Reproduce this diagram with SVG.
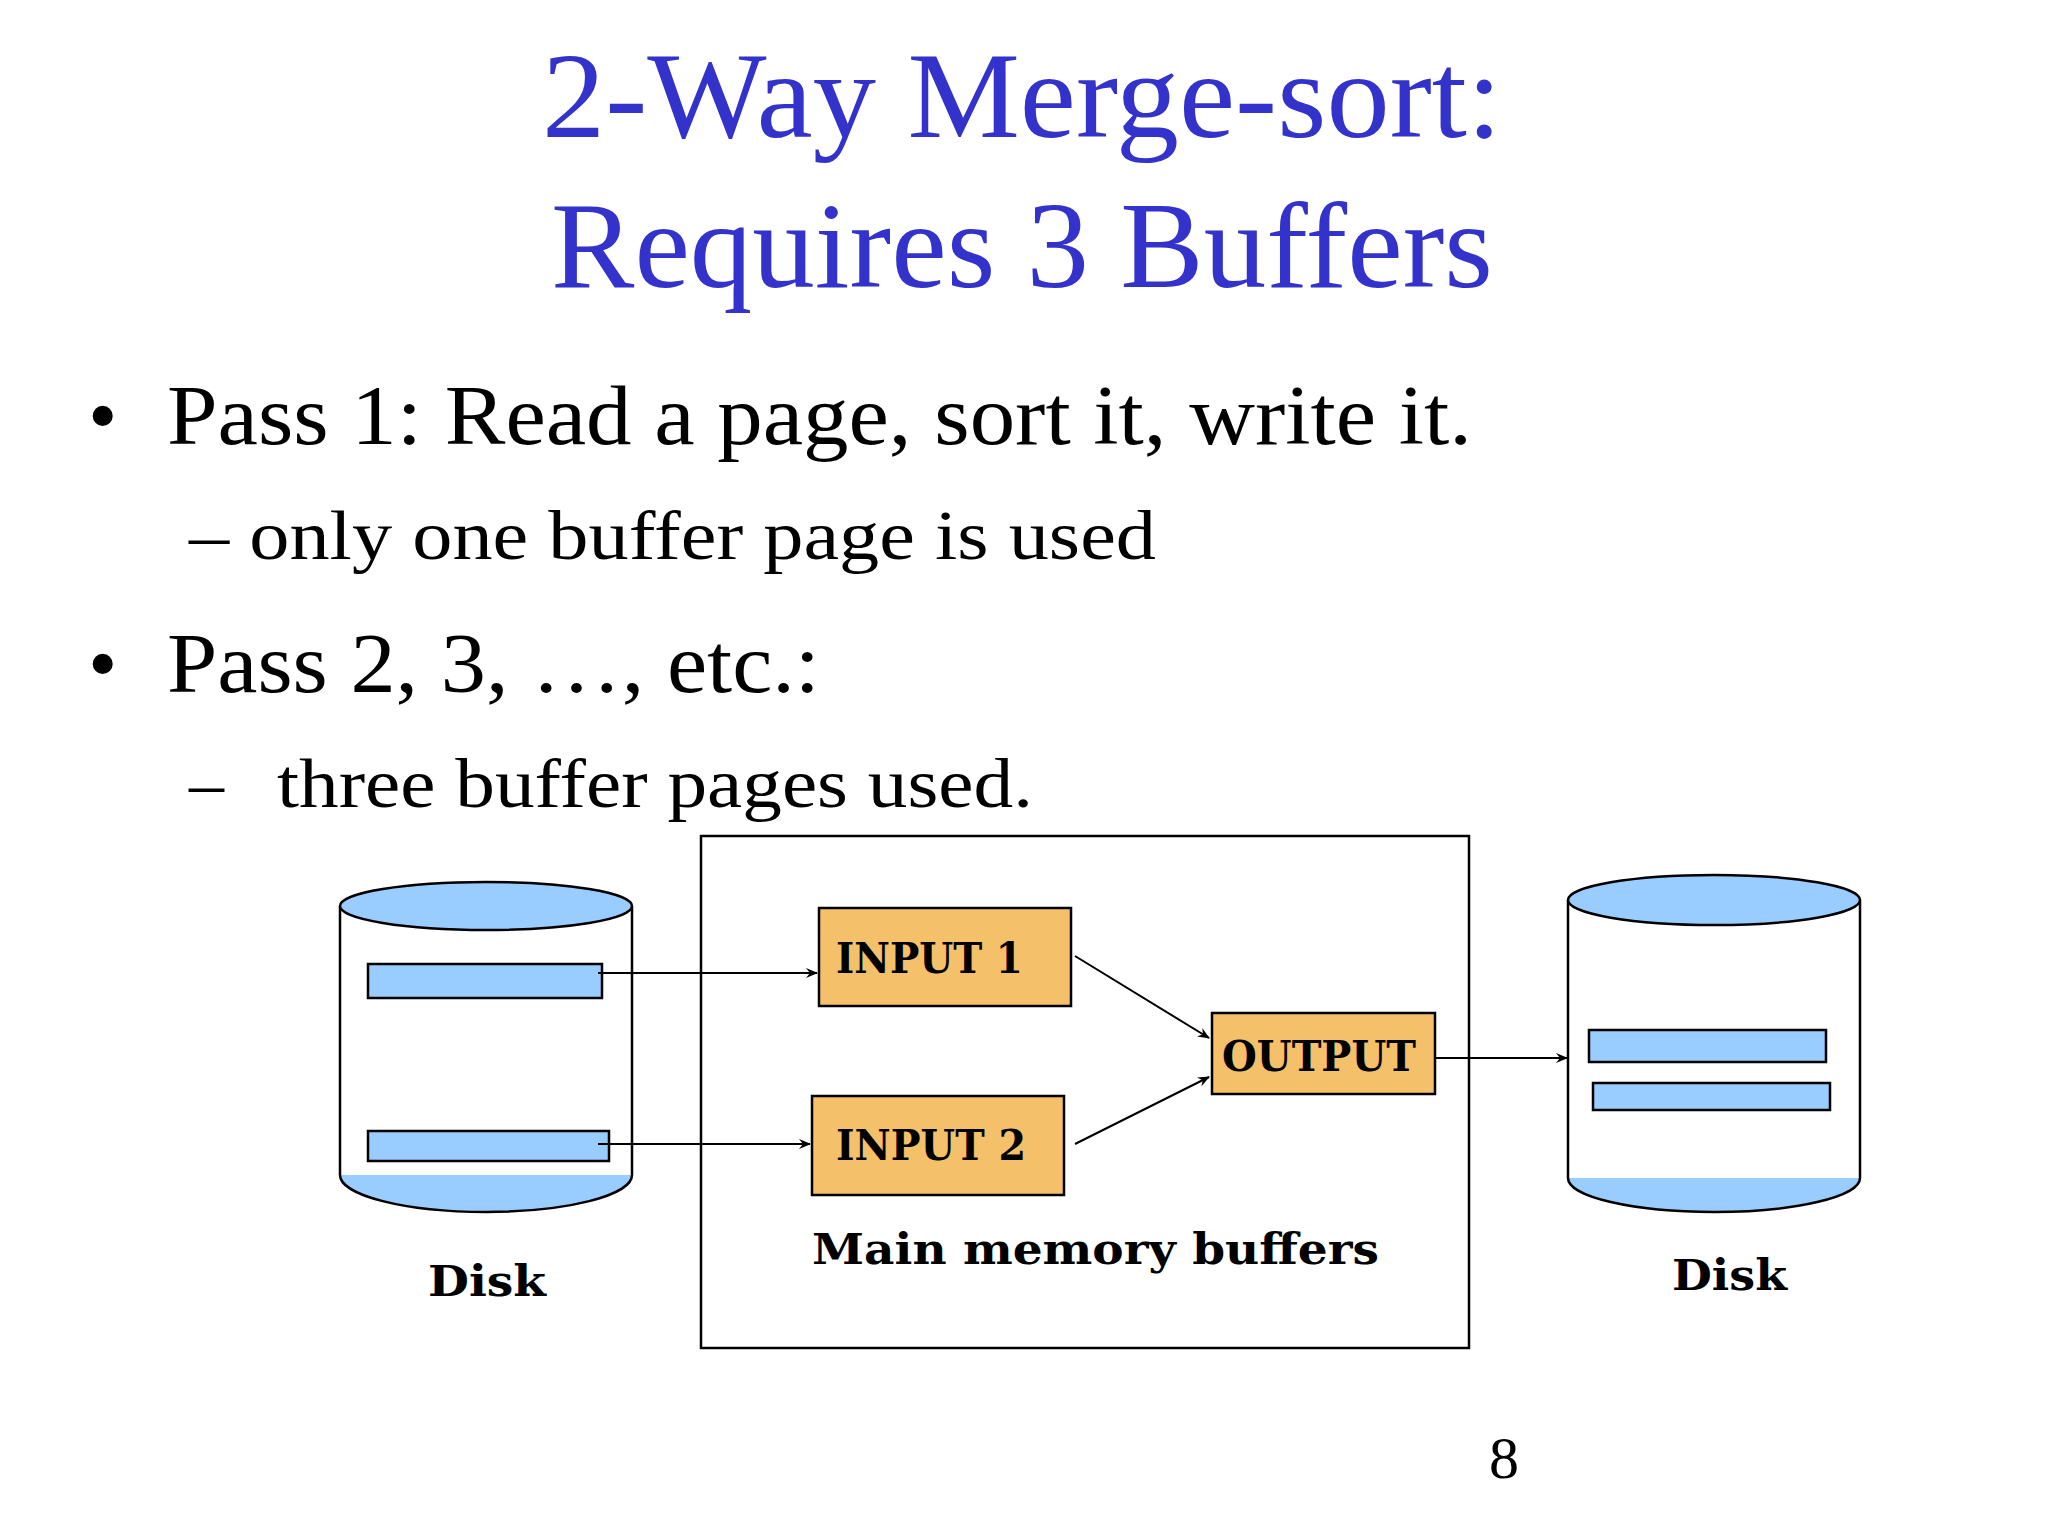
<svg xmlns="http://www.w3.org/2000/svg" width="2048" height="1536" viewBox="0 0 2048 1536">
<defs>
<style>
.t{font-family:"Liberation Serif","Times New Roman",serif;fill:#3333cc;font-size:122px}
.b{font-family:"Liberation Serif","Times New Roman",serif;fill:#000}
.l{font-family:"DejaVu Serif",serif;font-weight:bold;fill:#000;font-size:43px}
.buf{fill:#f5c06a;stroke:#000;stroke-width:2.5}
.blk{fill:#99ccff;stroke:#000;stroke-width:2.5}
.c{stroke:#000;stroke-width:2;fill:none;marker-end:url(#a)}
</style>
<marker id="a" viewBox="0 0 12 10" refX="11" refY="5" markerWidth="12" markerHeight="10" markerUnits="userSpaceOnUse" orient="auto"><path d="M0,0 L12,5 L0,10 L4,5 Z" fill="#000"/></marker>
</defs>
<rect width="2048" height="1536" fill="#fff"/>
<text class="t" x="542" y="137" textLength="960" lengthAdjust="spacingAndGlyphs">2-Way Merge-sort:</text>
<text class="t" x="551" y="287" textLength="942" lengthAdjust="spacingAndGlyphs">Requires 3 Buffers</text>
<g class="b">
<text x="88" y="444" font-size="84">•</text>
<text x="167" y="444" font-size="84" textLength="1305" lengthAdjust="spacingAndGlyphs">Pass 1: Read a page, sort it, write it.</text>
<text x="189" y="559" font-size="70" textLength="967" lengthAdjust="spacingAndGlyphs">– only one buffer page is used</text>
<text x="88" y="692" font-size="84">•</text>
<text x="167" y="692" font-size="84" textLength="653" lengthAdjust="spacingAndGlyphs">Pass 2, 3, …, etc.:</text>
<text x="189" y="807" font-size="70">–</text>
<text x="277" y="807" font-size="70" textLength="756" lengthAdjust="spacingAndGlyphs">three buffer pages used.</text>
<text x="1504" y="1478" font-size="60" text-anchor="middle">8</text>
</g>
<g id="memory"><rect x="701" y="836" width="768" height="512" fill="none" stroke="#000" stroke-width="2.5"/>
<text class="l" x="812" y="1264" textLength="567" lengthAdjust="spacingAndGlyphs">Main memory buffers</text></g>
<g id="diskL">
<path d="M340,1175 A146,37 0 0 0 632,1175 Z" fill="#99ccff"/>
<path d="M340,906 V1175 A146,37 0 0 0 632,1175 V906" fill="none" stroke="#000" stroke-width="2.5"/>
<ellipse cx="486" cy="906" rx="146" ry="24" class="blk"/>
<rect x="368" y="964" width="234" height="34" class="blk"/>
<rect x="368" y="1131" width="241" height="30" class="blk"/>
<text class="l" x="428" y="1296" textLength="118" lengthAdjust="spacingAndGlyphs">Disk</text>
</g>
<g id="diskR">
<path d="M1568,1178 A146,34 0 0 0 1860,1178 Z" fill="#99ccff"/>
<path d="M1568,900 V1178 A146,34 0 0 0 1860,1178 V900" fill="none" stroke="#000" stroke-width="2.5"/>
<ellipse cx="1714" cy="900" rx="146" ry="25" class="blk"/>
<rect x="1589" y="1030" width="237" height="32" class="blk"/>
<rect x="1593" y="1083" width="237" height="27" class="blk"/>
<text class="l" x="1672" y="1290" textLength="115" lengthAdjust="spacingAndGlyphs">Disk</text>
</g>
<g id="input1"><rect x="819" y="908" width="252" height="98" class="buf"/><text class="l" x="836" y="973" textLength="187" lengthAdjust="spacingAndGlyphs">INPUT 1</text></g>
<g id="input2"><rect x="812" y="1096" width="252" height="99" class="buf"/><text class="l" x="836" y="1160" textLength="190" lengthAdjust="spacingAndGlyphs">INPUT 2</text></g>
<g id="output"><rect x="1212" y="1013" width="223" height="81" class="buf"/><text class="l" x="1222" y="1071" textLength="194" lengthAdjust="spacingAndGlyphs">OUTPUT</text></g>
<g id="connectors">
<path class="c" d="M598,973 H817"/>
<path class="c" d="M598,1144 H810"/>
<path class="c" d="M1075,956 L1209,1038"/>
<path class="c" d="M1075,1144 L1209,1077"/>
<path class="c" d="M1435,1058 H1567"/>
</g>
</svg>
